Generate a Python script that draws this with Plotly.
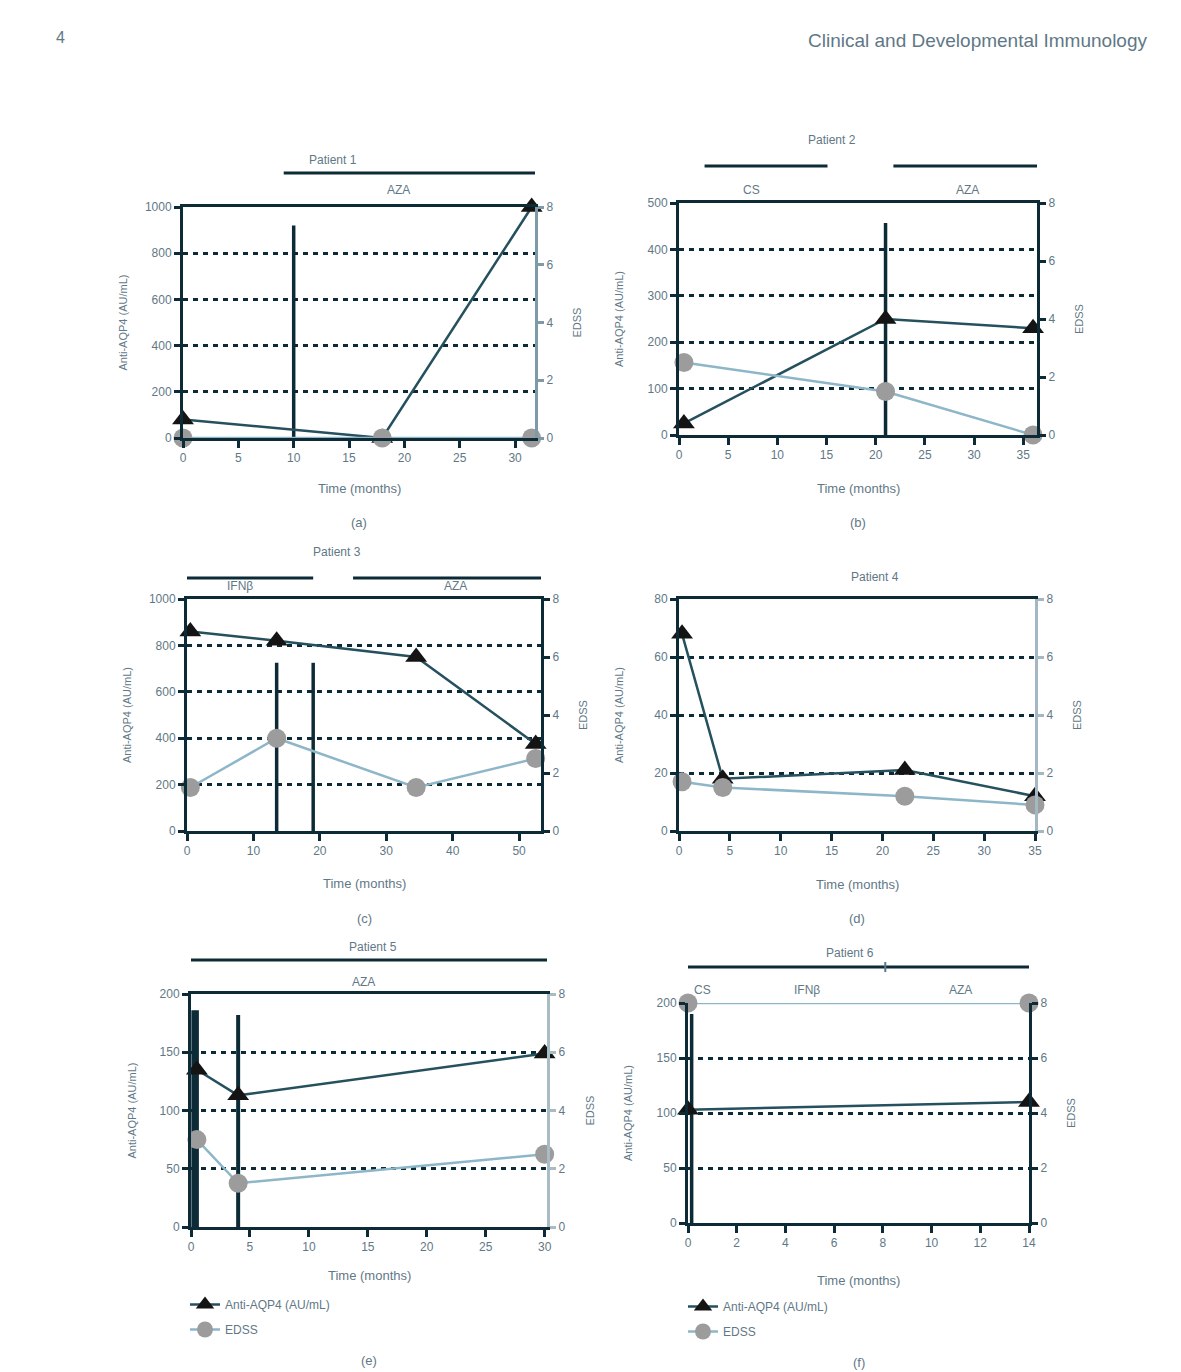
import plotly.graph_objects as go

# --- data ---
patients = ["Patient 1", "Patient 2", "Patient 3", "Patient 4", "Patient 5", "Patient 6"]
panel_tags = ["(a)", "(b)", "(c)", "(d)", "(e)", "(f)"]

p1_time = [0, 18, 31.5]
p1_aqp4 = [80, 0, 1000]
p1_edss = [0, 0, 0]

p2_time = [0.5, 21, 36]
p2_aqp4 = [25, 250, 230]
p2_edss = [2.5, 1.5, 0]

p3_time = [0.5, 13.5, 34.5, 52.5]
p3_aqp4 = [860, 820, 750, 375]
p3_edss = [1.5, 3.2, 1.5, 2.5]

p4_time = [0.3, 4.3, 22.2, 35]
p4_aqp4 = [68, 18, 21, 12]
p4_edss = [1.7, 1.5, 1.2, 0.9]

p5_time = [0.5, 4, 30]
p5_aqp4 = [135, 113, 149]
p5_edss = [3.0, 1.5, 2.5]

p6_time = [0, 14]
p6_aqp4 = [103, 110]
p6_edss = [8, 8]

# relapses (vertical lines): time, height on the antibody axis
relapse_time = [[10], [21], [13.5, 19], [], [0.2, 0.5, 4], [0.15]]
relapse_top = [[920], [457], [725, 725], [], [186, 186, 182], [190]]

# treatment periods above each panel
treat_start = [[9.1], [2.6, 21.8], [0, 25], [], [0], [0, 8.1]]
treat_end = [[32], [15.1, 37], [19, 53.5], [], [30.5], [8.1, 14]]
treat_labels = [["AZA"], ["CS", "AZA"], ["IFNβ", "AZA"], [], ["AZA"], ["CS", "IFNβ", "AZA"]]
treat_label_time = [[19.5], [7.4, 29.3], [8.0, 40.4], [], [14.6], [0.6, 4.9, 11.2]]

x_max = [31.8, 36.4, 53.3, 35, 30.2, 14]
x_dtick = [5, 5, 10, 5, 5, 2]
aqp4_max = [1000, 500, 1000, 80, 200, 200]
aqp4_dtick = [200, 100, 200, 20, 50, 50]

times = [p1_time, p2_time, p3_time, p4_time, p5_time, p6_time]
aqp4 = [p1_aqp4, p2_aqp4, p3_aqp4, p4_aqp4, p5_aqp4, p6_aqp4]
edss = [p1_edss, p2_edss, p3_edss, p4_edss, p5_edss, p6_edss]

# --- layout geometry (pixels on a 1181 x 1372 page) ---
W, H = 1181, 1372
OFF = 8  # page body margin
boxes = [(183, 535, 207, 438), (679, 1037, 203, 435), (187, 541, 599, 831),
         (679, 1035, 599, 831), (191, 547, 994, 1227), (688, 1029, 1003, 1223)]
title_pos = [(333, 160), (832, 140), (337, 552), (875, 577), (373, 947), (850, 953)]
bar_y = [173, 166, 578, None, 960, 967]
label_y = [190, 190, 586, None, 982, 990]
xtitle_y = [488, 488, 883, 884, 1275, 1280]
tag_y = [522, 522, 918, 918, 1360, 1362]
right_color = ["#7d9aa8", "#0d2b36", "#0d2b36", "#a3b8c2", "#a8bcc6", "#0d2b36"]

DARK = "#0d2b36"
TXT = "#5f7886"
EDSS_LINE = "#8db6c9"
EDSS_MARK = "#9c9c9c"
AQP_LINE = "#25505e"


def fx(p):
    return (p - OFF) / W


def fy(p):
    return 1 - (p - OFF) / H


def note(text, x, y, size, **kw):
    d = dict(text=text, x=x, y=y, xref="paper", yref="paper", showarrow=False,
             xanchor="center", yanchor="middle", font=dict(size=size, color=TXT))
    d.update(kw)
    return d


fig = go.Figure()
shapes = []
annotations = []

for i in range(6):
    n = i + 1
    xa = "x" if n == 1 else f"x{n}"
    ya = "y" if n == 1 else f"y{n}"
    yb = f"y{n + 6}"
    x0, x1, top, bot = boxes[i]

    # relapse lines
    for t, h in zip(relapse_time[i], relapse_top[i]):
        fig.add_trace(go.Scatter(x=[t, t], y=[0, h], mode="lines", xaxis=xa, yaxis=ya,
                                 line=dict(color=DARK, width=4 if n == 5 else 3.5),
                                 showlegend=False, hoverinfo="skip", cliponaxis=False))

    leg = {4: "legend", 5: "legend2"}.get(i)
    fig.add_trace(go.Scatter(x=times[i], y=aqp4[i], mode="lines+markers", xaxis=xa, yaxis=ya,
                             name="Anti-AQP4 (AU/mL)", cliponaxis=False,
                             line=dict(color=AQP_LINE, width=2.5),
                             marker=dict(symbol="triangle-up", size=19, color="#141414"),
                             showlegend=leg is not None, legend=leg or "legend",
                             legendgroup=f"aqp4_{n}"))
    fig.add_trace(go.Scatter(x=times[i], y=edss[i], mode="lines+markers", xaxis=xa, yaxis=yb,
                             name="EDSS", cliponaxis=False,
                             line=dict(color=EDSS_LINE, width=2.5),
                             marker=dict(symbol="circle", size=19, color=EDSS_MARK),
                             showlegend=leg is not None, legend=leg or "legend",
                             legendgroup=f"edss_{n}"))

    xkey = "xaxis" if n == 1 else f"xaxis{n}"
    ykey = "yaxis" if n == 1 else f"yaxis{n}"
    fig.layout[xkey] = dict(domain=[fx(x0), fx(x1)], anchor=ya, range=[0, x_max[i]],
                            dtick=x_dtick[i], tick0=0, showline=True, linecolor=DARK,
                            linewidth=3, mirror=(n != 6), ticks="outside", ticklen=7,
                            tickwidth=2.5, tickcolor=DARK, showgrid=False, zeroline=False,
                            automargin=False, tickfont=dict(size=12, color=TXT))
    fig.layout[ykey] = dict(domain=[fy(bot), fy(top)], anchor=xa, range=[0, aqp4_max[i]],
                            dtick=aqp4_dtick[i], showline=True, linecolor=DARK, linewidth=3,
                            ticks="outside", ticklen=6, tickwidth=2.5, tickcolor=DARK,
                            showgrid=True, gridcolor=DARK, gridwidth=2.5, griddash="5px,5px",
                            zeroline=False, automargin=False, tickfont=dict(size=12, color=TXT))
    fig.layout[f"yaxis{n + 6}"] = dict(overlaying=ya, side="right", anchor=xa, range=[0, 8],
                                       dtick=2, showline=True, linecolor=right_color[i],
                                       linewidth=3, ticks="outside", ticklen=6, tickwidth=2.5,
                                       tickcolor=right_color[i], showgrid=False, zeroline=False,
                                       automargin=False, tickfont=dict(size=12, color=TXT))

    cx = (x0 + x1) / 2
    annotations.append(note(patients[i], fx(title_pos[i][0]), fy(title_pos[i][1]), 12))
    annotations.append(note("Time (months)", fx(cx), fy(xtitle_y[i]), 13))
    annotations.append(note(panel_tags[i], fx(cx), fy(tag_y[i]), 13))
    annotations.append(note("Anti-AQP4 (AU/mL)", fx(x0 - 60), fy((top + bot) / 2), 11,
                            textangle=-90))
    annotations.append(note("EDSS", fx(x1 + 42), fy((top + bot) / 2), 11, textangle=-90))

    # treatment bars
    for s, e in zip(treat_start[i], treat_end[i]):
        shapes.append(dict(type="line", xref=xa, yref="paper", x0=s, x1=e,
                           y0=fy(bar_y[i]), y1=fy(bar_y[i]),
                           line=dict(color=DARK, width=3)))
    for lab, t in zip(treat_labels[i], treat_label_time[i]):
        annotations.append(dict(text=lab, x=t, y=fy(label_y[i]), xref=xa, yref="paper",
                                showarrow=False, xanchor="center", yanchor="middle",
                                font=dict(size=12, color=TXT)))

# small break mark on the Patient 6 treatment bar
shapes.append(dict(type="line", xref="x6", yref="paper", x0=8.1, x1=8.1,
                   y0=fy(bar_y[5] - 5), y1=fy(bar_y[5] + 5), line=dict(color=TXT, width=2)))

# page header
annotations.append(note("4", fx(60), fy(38), 16))
annotations.append(note("Clinical and Developmental Immunology", fx(1150), fy(40), 19,
                        xanchor="right"))

fig.update_layout(
    width=W, height=H, margin=dict(l=0, r=0, t=0, b=0, autoexpand=False),
    paper_bgcolor="white", plot_bgcolor="white",
    font=dict(family="Liberation Sans, Arial, sans-serif", color=TXT),
    shapes=shapes, annotations=annotations,
    legend=dict(x=fx(185), y=fy(1290), xanchor="left", yanchor="top",
                font=dict(size=12, color=TXT), bgcolor="rgba(0,0,0,0)", tracegroupgap=6),
    legend2=dict(x=fx(683), y=fy(1292), xanchor="left", yanchor="top",
                 font=dict(size=12, color=TXT), bgcolor="rgba(0,0,0,0)", tracegroupgap=6),
)

fig.write_html("out.html")
